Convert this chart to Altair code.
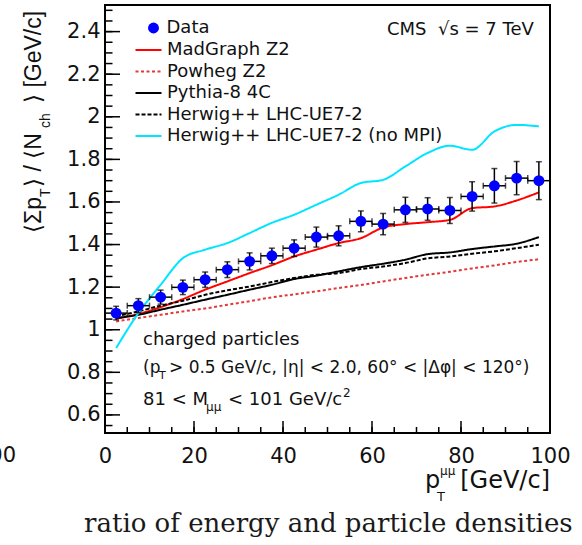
import altair as alt
import pandas as pd

# ---------------- data ----------------
bin_centers = [2.5, 7.5, 12.5, 17.5, 22.5, 27.5, 32.5, 37.5, 42.5, 47.5,
               52.5, 57.5, 62.5, 67.5, 72.5, 77.5, 82.5, 87.5, 92.5, 97.5]
bin_lo = [0, 5, 10, 15, 20, 25, 30, 35, 40, 45, 50, 55, 60, 65, 70, 75, 80, 85, 90, 95]
bin_hi = [5, 10, 15, 20, 25, 30, 35, 40, 45, 50, 55, 60, 65, 70, 75, 80, 85, 90, 95, 100]

data_val = [1.078, 1.113, 1.153, 1.199, 1.235, 1.282, 1.321, 1.347, 1.383, 1.435,
            1.441, 1.509, 1.496, 1.563, 1.567, 1.560, 1.626, 1.676, 1.712, 1.700]
data_err = [0.032, 0.033, 0.033, 0.034, 0.036, 0.037, 0.040, 0.036, 0.039, 0.047,
            0.047, 0.049, 0.050, 0.059, 0.053, 0.061, 0.069, 0.081, 0.078, 0.089]

madgraph = [1.052, 1.074, 1.106, 1.144, 1.188, 1.227, 1.266, 1.303, 1.344, 1.376,
            1.407, 1.430, 1.480, 1.496, 1.505, 1.516, 1.571, 1.579, 1.607, 1.645]
powheg = [1.039, 1.055, 1.070, 1.086, 1.100, 1.117, 1.134, 1.152, 1.166, 1.180,
          1.196, 1.210, 1.227, 1.243, 1.258, 1.272, 1.288, 1.302, 1.318, 1.331]
pythia = [1.055, 1.070, 1.094, 1.117, 1.141, 1.164, 1.188, 1.211, 1.238, 1.254,
          1.274, 1.294, 1.310, 1.329, 1.355, 1.363, 1.379, 1.391, 1.404, 1.435]
herwig = [1.063, 1.086, 1.113, 1.136, 1.164, 1.185, 1.203, 1.224, 1.243, 1.258,
          1.266, 1.285, 1.297, 1.313, 1.335, 1.344, 1.357, 1.368, 1.383, 1.399]
herwig_nompi = [0.914, 1.078, 1.211, 1.336, 1.376, 1.407, 1.454, 1.502, 1.540, 1.587,
                1.634, 1.689, 1.704, 1.767, 1.830, 1.864, 1.845, 1.931, 1.962, 1.955]

model_names = ["MadGraph Z2", "Powheg Z2", "Pythia-8 4C",
               "Herwig++ LHC-UE7-2", "Herwig++ LHC-UE7-2 (no MPI)"]
model_values = [madgraph, powheg, pythia, herwig, herwig_nompi]
model_colors = ["#ff0000", "#e23a3a", "#000000", "#000000", "#00e5ff"]
model_dashes = [[1, 0], [3, 2.5], [1, 0], [4, 2], [1, 0]]

x_major = [0, 20, 40, 60, 80, 100]
x_minor = [0, 5, 10, 15, 20, 25, 30, 35, 40, 45, 50, 55, 60, 65, 70, 75, 80, 85, 90, 95, 100]
y_major = [0.6, 0.8, 1.0, 1.2, 1.4, 1.6, 1.8, 2.0, 2.2, 2.4]
y_minor = [round(0.55 + 0.05 * i, 2) for i in range(40)]

# ---------------- tables ----------------
pts = pd.DataFrame({"x": bin_centers, "lo": bin_lo, "hi": bin_hi,
                    "val": data_val, "err": data_err, "series": "Data"})
pts["ylo"] = pts["val"] - pts["err"]
pts["yhi"] = pts["val"] + pts["err"]

models = pd.concat([pd.DataFrame({"x": bin_centers, "value": vals, "model": name})
                    for name, vals in zip(model_names, model_values)], ignore_index=True)

W, H = 445, 428
FONT = "DejaVu Sans"
xs = alt.Scale(domain=[0, 100], nice=False, zero=False)
ys = alt.Scale(domain=[0.515, 2.525], nice=False, zero=False)

x_axis = alt.Axis(values=x_major, format="d", ticks=False, domain=False, grid=False,
                  labelFont=FONT, labelFontSize=21, labelColor="#111", labelPadding=12,
                  labelFlush=False, labelOverlap=False, title=None)
y_axis = alt.Axis(values=y_major, format="~g", ticks=False, domain=False, grid=False,
                  labelFont=FONT, labelFontSize=21, labelColor="#111", labelPadding=5,
                  labelOverlap=False, title=None)


def X(field):
    return alt.X(field, scale=xs, axis=x_axis)


def Y(field):
    return alt.Y(field, scale=ys, axis=y_axis)


model_legend = alt.Legend(orient="none", legendX=34.5, legendY=36, title=None,
                          symbolType="M-2,0H2", symbolSize=169, symbolStrokeWidth=2,
                          labelFont=FONT, labelFontSize=18, labelColor="#111",
                          labelOffset=9.5, labelLimit=0, rowPadding=3.5, padding=0)

lines = alt.Chart(models).mark_line(strokeWidth=2, interpolate="monotone").encode(
    x=X("x:Q"),
    y=Y("value:Q"),
    color=alt.Color("model:N", scale=alt.Scale(domain=model_names, range=model_colors),
                    legend=model_legend),
    strokeDash=alt.StrokeDash("model:N", scale=alt.Scale(domain=model_names, range=model_dashes),
                              legend=model_legend),
    detail="model:N",
)

hbar = alt.Chart(pts).mark_rule(color="black", strokeWidth=1.5).encode(
    x=X("lo:Q"), x2="hi:Q", y=Y("val:Q"))
vbar = alt.Chart(pts).mark_rule(color="black", strokeWidth=1.5).encode(
    x=X("x:Q"), y=Y("ylo:Q"), y2="yhi:Q")
cap_lo = alt.Chart(pts).mark_tick(orient="horizontal", color="black", size=6, thickness=1.5).encode(
    x=X("x:Q"), y=Y("ylo:Q"))
cap_hi = alt.Chart(pts).mark_tick(orient="horizontal", color="black", size=6, thickness=1.5).encode(
    x=X("x:Q"), y=Y("yhi:Q"))
hcap_lo = alt.Chart(pts).mark_tick(orient="vertical", color="black", size=6, thickness=1.5).encode(
    x=X("lo:Q"), y=Y("val:Q"))
hcap_hi = alt.Chart(pts).mark_tick(orient="vertical", color="black", size=6, thickness=1.5).encode(
    x=X("hi:Q"), y=Y("val:Q"))

points = alt.Chart(pts).mark_circle(size=120, opacity=1).encode(
    x=X("x:Q"), y=Y("val:Q"),
    color=alt.Color("series:N", scale=alt.Scale(domain=["Data"], range=["#0000ff"]),
                    legend=alt.Legend(orient="none", legendX=39.5, legendY=14, title=None,
                                      symbolType="circle", symbolSize=120, symbolStrokeWidth=0,
                                      labelFont=FONT, labelFontSize=18, labelColor="#111",
                                      labelOffset=4, padding=0)),
)


# axis ticks (inside the frame)
def xticks(vals, length):
    return alt.Chart(pd.DataFrame({"v": vals})).mark_rule(color="black", strokeWidth=1.5).encode(
        x=X("v:Q"), y=alt.value(H), y2=alt.value(H - length))


def yticks(vals, length):
    return alt.Chart(pd.DataFrame({"v": vals})).mark_rule(color="black", strokeWidth=1.5).encode(
        y=Y("v:Q"), x=alt.value(0), x2=alt.value(length))


# text helper (annotations)
def txt(s, x, y, size, font=FONT, angle=0, align="left", baseline="alphabetic", color="#111"):
    kw = dict(align=align, baseline=baseline, font=font, fontSize=size, color=color)
    if angle:
        kw["angle"] = angle
    return alt.Chart(pd.DataFrame({"t": [s]})).mark_text(**kw).encode(
        text="t:N", x=alt.value(x), y=alt.value(y))


NB = "\u00a0"
texts = [
    txt("CMS" + NB + NB + "√s = 7 TeV", 282, 30, 18),
    txt("charged particles", 38, 340, 18),
    txt("(p", 38, 368, 17),
    txt("T", 54, 374, 11),
    txt("> 0.5 GeV/c, |η| < 2.0, 60° < |Δφ| < 120°)", 64, 368, 17),
    txt("81 < M", 38, 400, 18),
    txt("μμ", 101, 406, 12),
    txt("< 101 GeV/c", 123, 400, 18),
    txt("2", 238, 392, 12),
    # x title
    txt("p", 320, 483, 24),
    txt("μμ", 335, 470, 12),
    txt("T", 332, 496, 13),
    txt("[GeV/c]", 445, 483, 24, align="right"),
    # y title (rotated)
    txt("⟨Σp", -64.5, 228, 23, font="Liberation Sans", angle=270),
    txt("T", -55, 192, 14, font="Liberation Sans", angle=270),
    txt("⟩" + NB + "/" + NB + "⟨N", -64.5, 182, 23, font="Liberation Sans", angle=270),
    txt("ch", -55, 123, 14, font="Liberation Sans", angle=270),
    txt("⟩" + NB + "[GeV/c]", -64.5, 98, 23, font="Liberation Sans", angle=270),
    # cut-off neighbours
    txt("100", -89, 456.7, 21, align="right"),
    txt("ratio of energy and particle densities", -21, 527, 26, font="DejaVu Serif", color="#1a1a1a"),
]

chart = alt.layer(
    lines,
    xticks(x_minor, 6), xticks(x_major, 12),
    yticks(y_minor, 7.5), yticks(y_major, 15),
    hbar, vbar, cap_lo, cap_hi, hcap_lo, hcap_hi,
    points,
    *texts,
).resolve_scale(color="independent", strokeDash="independent").properties(
    width=W, height=H,
    autosize=alt.AutoSizeParams(type="none"),
    padding={"left": 105, "top": 5, "right": 32, "bottom": 112},
).configure(background="white").configure_view(stroke="black", strokeWidth=2)

chart.save("out.html", embed_options={"renderer": "svg", "actions": False})
